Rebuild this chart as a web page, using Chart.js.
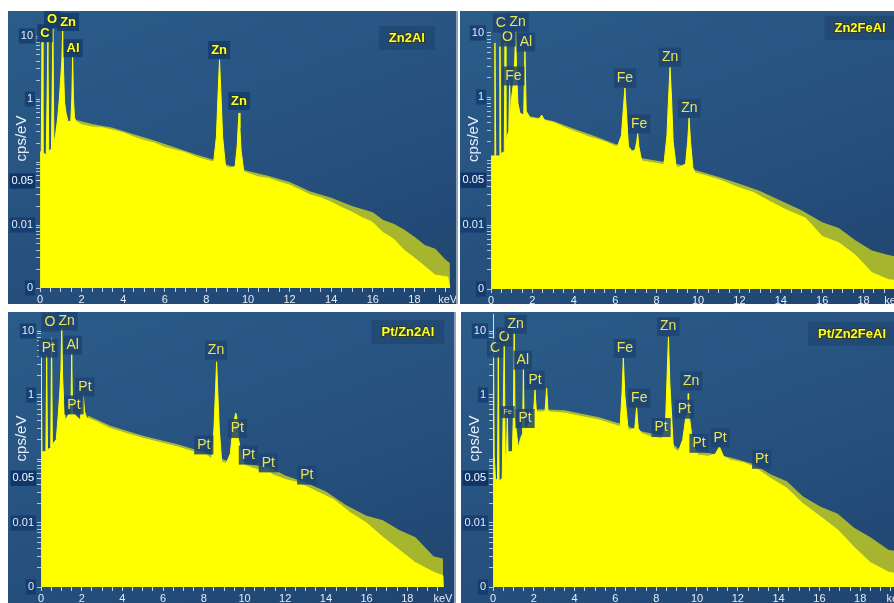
<!DOCTYPE html>
<html>
<head>
<meta charset="utf-8">
<script src="https://cdn.jsdelivr.net/npm/chart.js@4.4.1/dist/chart.umd.min.js"></script>
<style>
  body { margin: 0; background: #fff; width: 894px; height: 603px; position: relative; overflow: hidden; font-family: Arial, "Liberation Sans", sans-serif; }
  .panel { position: absolute; overflow: hidden; background: linear-gradient(160deg, #2b5c89 0%, #275280 50%, #20446f 100%); }
  .panel canvas { position: absolute; left: 0; top: 0; }
</style>
</head>
<body>
<div class="panel" id="p1" style="left:8px;top:11px;width:448px;height:293px;border-right:2px solid #8ea3b8;"></div>
<div class="panel" id="p2" style="left:460px;top:11px;width:434px;height:293px;"></div>
<div class="panel" id="p3" style="left:8px;top:312px;width:446px;height:291px;border-right:2px solid #8ea3b8;"></div>
<div class="panel" id="p4" style="left:461px;top:312px;width:433px;height:291px;"></div>
<script>
// Spektri: energija (keV) i intenzitet (cps/eV), procitano sa slike

// Zn2Al
const zn2alKeV = [0, 0.01, 0.06, 0.1, 0.14, 0.3, 0.38, 0.42, 0.55, 0.62, 0.67, 0.75, 0.85, 0.93, 0.98, 1.05, 1.09, 1.13, 1.18, 1.25, 1.36, 1.48, 1.53, 1.57, 1.61, 1.66, 1.76, 2, 2.5, 3, 3.5, 4, 4.5, 5, 5.5, 6, 6.5, 7, 7.5, 8, 8.35, 8.48, 8.56, 8.63, 8.7, 8.78, 8.92, 9.15, 9.38, 9.48, 9.53, 9.57, 9.61, 9.67, 9.8, 10, 10.5, 11, 11.5, 12, 12.5, 13, 13.5, 14, 14.5, 15, 15.5, 16, 16.5, 17, 17.5, 18, 18.5, 19, 19.6, 19.7];
const zn2alCps = [0.001, 0.14, 0.15, 8, 0.14, 0.13, 8, 0.15, 0.16, 13, 0.2, 0.27, 0.5, 1.0, 1.8, 4, 12.5, 3, 0.9, 0.6, 0.43, 0.45, 1.0, 4.6, 1.0, 0.5, 0.43, 0.39, 0.36, 0.35, 0.32, 0.29, 0.25, 0.22, 0.2, 0.17, 0.155, 0.14, 0.12, 0.107, 0.1, 0.25, 1.2, 4.2, 1.2, 0.25, 0.085, 0.08, 0.085, 0.18, 0.38, 0.6, 0.35, 0.15, 0.07, 0.066, 0.058, 0.055, 0.048, 0.043, 0.036, 0.03, 0.027, 0.023, 0.019, 0.016, 0.013, 0.011, 0.0075, 0.006, 0.004, 0.003, 0.0022, 0.0016, 0.0015, 0.001];
const zn2alNoiseKeV = [1.7, 2.5, 3.5, 4.5, 5.5, 6.5, 7.5, 8.3, 9.1, 9.9, 11, 12, 13, 14, 15, 16, 16.5, 17, 17.5, 18, 18.5, 19, 19.5, 19.7, 19.72];
const zn2alNoiseCps = [0.47, 0.4, 0.35, 0.275, 0.22, 0.17, 0.132, 0.11, 0.088, 0.073, 0.06, 0.048, 0.034, 0.027, 0.02, 0.016, 0.012, 0.0105, 0.0085, 0.0065, 0.0048, 0.0042, 0.0028, 0.0025, 0.001];

// Zn2FeAl
const zn2feKeV = [0, 0.01, 0.15, 0.19, 0.23, 0.39, 0.43, 0.47, 0.64, 0.68, 0.72, 0.86, 0.9, 0.94, 1.0, 1.08, 1.15, 1.19, 1.23, 1.3, 1.4, 1.58, 1.64, 1.7, 1.9, 2.3, 2.45, 2.6, 3.1, 3.5, 3.9, 4.3, 4.7, 5.1, 5.5, 6.1, 6.3, 6.4, 6.47, 6.54, 6.64, 6.8, 6.96, 7.04, 7.09, 7.14, 7.28, 7.9, 8.35, 8.5, 8.58, 8.65, 8.72, 8.8, 8.95, 9.1, 9.4, 9.5, 9.57, 9.64, 9.75, 9.85, 10.3, 11.1, 11.9, 12.7, 13.5, 14.3, 15.2, 16, 16.8, 17.6, 18.4, 19.2, 20];
const zn2feCps = [0.001, 0.12, 0.12, 7, 0.12, 0.12, 10, 0.13, 0.14, 7, 0.2, 0.3, 1.8, 0.5, 1.0, 1.6, 4, 11, 3, 0.8, 0.56, 0.52, 5.4, 0.6, 0.47, 0.45, 0.52, 0.43, 0.39, 0.34, 0.3, 0.27, 0.24, 0.22, 0.2, 0.165, 0.25, 0.7, 1.38, 0.6, 0.17, 0.14, 0.15, 0.2, 0.27, 0.17, 0.1, 0.093, 0.087, 0.25, 1.0, 2.9, 1.0, 0.2, 0.08, 0.08, 0.09, 0.2, 0.47, 0.2, 0.08, 0.065, 0.06, 0.05, 0.039, 0.032, 0.023, 0.017, 0.0128, 0.0066, 0.0053, 0.0034, 0.0018, 0.0014, 0.0013];
const zn2feNoiseKeV = [1.9, 3, 4, 5, 6, 6.6, 7.3, 8.3, 9.1, 9.9, 11, 12, 13, 14, 15, 16, 16.8, 17.6, 18.4, 19.2, 20];
const zn2feNoiseCps = [0.5, 0.42, 0.32, 0.245, 0.185, 0.17, 0.11, 0.097, 0.088, 0.072, 0.056, 0.044, 0.034, 0.024, 0.017, 0.011, 0.009, 0.0058, 0.004, 0.0034, 0.003];

// Pt/Zn2Al
const ptZn2alKeV = [0, 0.01, 0.05, 0.24, 0.28, 0.32, 0.48, 0.52, 0.56, 0.75, 0.85, 0.93, 0.98, 1.02, 1.06, 1.12, 1.2, 1.34, 1.47, 1.51, 1.55, 1.67, 1.92, 2.0, 2.08, 2.14, 2.25, 2.74, 3.39, 4.21, 5.03, 5.85, 6.67, 7.48, 8.14, 8.39, 8.5, 8.58, 8.63, 8.68, 8.76, 8.88, 9.1, 9.3, 9.45, 9.57, 9.62, 9.7, 9.86, 10, 10.4, 10.8, 11.07, 11.4, 12.1, 12.7, 13.55, 14.4, 15.2, 16, 16.8, 17.6, 18.4, 19.3, 19.75, 19.77];
const ptZn2alCps = [0.001, 4.2, 0.13, 0.13, 4.2, 0.14, 0.15, 7.8, 0.17, 0.2, 0.5, 1.2, 2.5, 11, 2.0, 0.7, 0.4, 0.49, 0.5, 4.5, 0.55, 0.49, 0.41, 0.6, 1.0, 0.55, 0.44, 0.38, 0.3, 0.25, 0.21, 0.18, 0.155, 0.13, 0.115, 0.1, 0.3, 1.3, 3.3, 1.3, 0.3, 0.09, 0.085, 0.12, 0.34, 0.52, 0.45, 0.21, 0.11, 0.08, 0.072, 0.066, 0.07, 0.056, 0.047, 0.042, 0.031, 0.023, 0.0145, 0.01, 0.006, 0.0038, 0.0024, 0.0017, 0.0015, 0.001];
const ptZn2alNoiseKeV = [2.3, 3.4, 5, 6.7, 8.1, 9.1, 10.2, 11.2, 12, 13, 14, 15, 16, 16.8, 17.6, 18.4, 19.3, 19.75, 19.77];
const ptZn2alNoiseCps = [0.48, 0.33, 0.23, 0.17, 0.125, 0.095, 0.082, 0.075, 0.055, 0.043, 0.031, 0.019, 0.013, 0.011, 0.0078, 0.006, 0.003, 0.0028, 0.001];

// Pt/Zn2FeAl
const ptZn2feKeV = [0, 0.01, 0.06, 0.12, 0.22, 0.26, 0.3, 0.45, 0.55, 0.6, 0.66, 0.7, 0.74, 0.95, 1.0, 1.04, 1.08, 1.24, 1.35, 1.45, 1.49, 1.53, 1.6, 1.65, 1.9, 2.0, 2.06, 2.12, 2.22, 2.55, 2.63, 2.7, 2.88, 3.53, 4.35, 5.16, 5.98, 6.23, 6.32, 6.39, 6.46, 6.63, 6.95, 7.04, 7.12, 7.29, 7.78, 8.27, 8.45, 8.53, 8.6, 8.67, 8.84, 9.08, 9.3, 9.45, 9.55, 9.57, 9.59, 9.65, 9.8, 10.05, 10.54, 10.9, 11.1, 11.3, 11.65, 12.3, 12.8, 13.6, 14.4, 15.2, 16.06, 16.9, 17.7, 18.5, 19.4, 20.3];
const ptZn2feCps = [0.001, 30, 0.11, 0.05, 0.045, 4.2, 0.045, 0.05, 6, 0.1, 0.13, 0.44, 0.13, 0.13, 0.5, 9.3, 0.4, 0.15, 0.21, 0.25, 2.6, 0.28, 0.32, 0.3, 0.44, 0.6, 1.2, 0.6, 0.54, 0.55, 1.28, 0.55, 0.54, 0.52, 0.46, 0.41, 0.34, 0.32, 1.0, 3.8, 1.0, 0.28, 0.3, 0.65, 0.3, 0.25, 0.22, 0.21, 0.3, 1.8, 8.1, 1.5, 0.15, 0.13, 0.2, 0.45, 0.5, 1.05, 0.5, 0.4, 0.17, 0.115, 0.11, 0.12, 0.155, 0.11, 0.096, 0.087, 0.075, 0.05, 0.035, 0.02, 0.0125, 0.0078, 0.0042, 0.0024, 0.0017, 0.0015];
const ptZn2feNoiseKeV = [2.2, 3.5, 5.2, 6.2, 7.3, 8.3, 9.1, 10.5, 11.7, 12.8, 13.6, 14.4, 15.2, 16.06, 16.9, 17.7, 18.5, 19.4, 20.3];
const ptZn2feNoiseCps = [0.6, 0.58, 0.45, 0.36, 0.27, 0.23, 0.145, 0.125, 0.105, 0.083, 0.058, 0.045, 0.026, 0.018, 0.014, 0.0084, 0.006, 0.0038, 0.0035];

// Oznake na y osi
const yTickValues = [10, 1, 0.05, 0.01, 0.001];
const yTickLabels = ['10', '1', '0.05', '0.01', '0'];

// Oznake pikova
const zn2alPeaks = [
  { text: 'C', kev: 0.24, cps: 11.1 }, { text: 'O', kev: 0.58, cps: 18.6 },
  { text: 'Zn', kev: 1.35, cps: 16.7 }, { text: 'Al', kev: 1.59, cps: 6.4 },
  { text: 'Zn', kev: 8.61, cps: 6.0 }, { text: 'Zn', kev: 9.57, cps: 0.93 }
];
const zn2fePeaks = [
  { text: 'C', kev: 0.47, cps: 14.3 }, { text: 'O', kev: 0.79, cps: 8.66 },
  { text: 'Zn', kev: 1.29, cps: 14.8 }, { text: 'Al', kev: 1.69, cps: 7.2 },
  { text: 'Fe', kev: 1.08, cps: 2.13 }, { text: 'Fe', kev: 6.47, cps: 1.98 },
  { text: 'Fe', kev: 7.16, cps: 0.38 }, { text: 'Zn', kev: 8.65, cps: 4.2 },
  { text: 'Zn', kev: 9.58, cps: 0.67 }
];
const ptZn2alPeaks = [
  { text: 'O', kev: 0.44, cps: 13.8 }, { text: 'Pt', kev: 0.36, cps: 5.4 },
  { text: 'Zn', kev: 1.26, cps: 14.3 }, { text: 'Al', kev: 1.56, cps: 6.0 },
  { text: 'Pt', kev: 2.16, cps: 1.33 }, { text: 'Pt', kev: 1.62, cps: 0.70 },
  { text: 'Zn', kev: 8.6, cps: 5.05 }, { text: 'Pt', kev: 9.65, cps: 0.3 },
  { text: 'Pt', kev: 8.0, cps: 0.166 }, { text: 'Pt', kev: 10.19, cps: 0.115 },
  { text: 'Pt', kev: 11.17, cps: 0.087 }, { text: 'Pt', kev: 13.06, cps: 0.056 }
];
const ptZn2fePeaks = [
  { text: 'C', kev: 0.1, cps: 5.4 }, { text: 'O', kev: 0.55, cps: 8.1 },
  { text: 'Zn', kev: 1.11, cps: 12.7 }, { text: 'Al', kev: 1.46, cps: 3.5 },
  { text: 'Fe', kev: 0.72, cps: 0.54, size: 7 }, { text: 'Pt', kev: 2.06, cps: 1.71 },
  { text: 'Pt', kev: 1.57, cps: 0.43 }, { text: 'Fe', kev: 6.47, cps: 5.35 },
  { text: 'Fe', kev: 7.17, cps: 0.89 }, { text: 'Pt', kev: 8.24, cps: 0.31 },
  { text: 'Zn', kev: 8.59, cps: 11.7 }, { text: 'Zn', kev: 9.71, cps: 1.65 },
  { text: 'Pt', kev: 9.38, cps: 0.6 }, { text: 'Pt', kev: 10.1, cps: 0.176 },
  { text: 'Pt', kev: 11.13, cps: 0.215 }, { text: 'Pt', kev: 13.17, cps: 0.099 }
];

function toPoints(xs, ys) {
  return xs.map((x, i) => ({ x: x, y: ys[i] }));
}

// Crtanje oznaka, naslova i "keV"
const labelPlugin = {
  id: 'peakLabels',
  afterDatasetsDraw(chart) {
    const o = chart.config.options.peakCfg;
    const ctx = chart.ctx;
    const x = chart.scales.x, y = chart.scales.y;
    ctx.save();
    ctx.textAlign = 'center';
    ctx.textBaseline = 'middle';
    o.peaks.forEach(p => {
      const size = p.size || o.size;
      const px = x.getPixelForValue(p.kev), py = y.getPixelForValue(p.cps);
      ctx.font = (o.bold ? 'bold ' : '') + size + 'px Arial';
      const w = ctx.measureText(p.text).width + 6, h = size + 5;
      ctx.fillStyle = o.box;
      ctx.fillRect(px - w / 2, py - h / 2, w, h);
      if (o.bold) {
        ctx.lineWidth = 2;
        ctx.strokeStyle = 'rgba(40,50,30,0.7)';
        ctx.strokeText(p.text, px, py);
      }
      ctx.fillStyle = o.color;
      ctx.fillText(p.text, px, py);
    });
    // naslov uzorka
    ctx.font = 'bold 13px Arial';
    const tx = x.getPixelForValue(o.title.kev), ty = y.getPixelForValue(o.title.cps);
    const tw = ctx.measureText(o.title.text).width;
    ctx.fillStyle = 'rgba(20,50,90,0.3)';
    ctx.fillRect(tx - tw / 2 - 10, ty - 12, tw + 20, 24);
    ctx.lineWidth = 2;
    ctx.strokeStyle = 'rgba(50,55,20,0.8)';
    ctx.strokeText(o.title.text, tx, ty);
    ctx.fillStyle = '#ffff2a';
    ctx.fillText(o.title.text, tx, ty);
    ctx.restore();
  },
  afterDraw(chart) {
    const ctx = chart.ctx;
    const area = chart.chartArea;
    const o = chart.config.options.peakCfg;
    ctx.save();
    ctx.fillStyle = '#e6edf5';
    ctx.font = '11px Arial';
    ctx.textAlign = 'center';
    ctx.textBaseline = 'middle';
    ctx.fillText('keV', chart.scales.x.getPixelForValue(o.kevAt), area.bottom + 12);
    ctx.translate(14, (area.top + area.bottom) / 2 - 12);
    ctx.rotate(-Math.PI / 2);
    ctx.font = '15px Arial';
    ctx.fillText('cps/eV', 0, 0);
    ctx.restore();
  }
};

function makePanel(id, cfg) {
  const panel = document.getElementById(id);
  const canvas = document.createElement('canvas');
  const top = 2;
  const bottom = cfg.y1 + 3 * cfg.ppd;
  const h = bottom + 26;
  canvas.width = cfg.w;
  canvas.height = h;
  canvas.style.width = cfg.w + 'px';
  canvas.style.height = h + 'px';
  panel.appendChild(canvas);

  const xMax = (cfg.w - cfg.x0 - 4) / cfg.ppk;
  const yMax = Math.pow(10, (cfg.y1 - top) / cfg.ppd);

  const yTicks = [];
  for (let e = -3; e <= 0; e++) {
    for (let m = 1; m <= 9; m++) yTicks.push(m * Math.pow(10, e));
  }
  yTicks.push(0.05, 10);

  const yLabel = v => {
    const i = yTickValues.findIndex(t => Math.abs(v / t - 1) < 1e-6);
    return i >= 0 ? yTickLabels[i] : '';
  };

  return new Chart(canvas, {
    type: 'line',
    data: {
      datasets: [{
        data: toPoints(cfg.noiseKeV, cfg.noiseCps),
        backgroundColor: 'rgba(255,255,0,0.6)',
        borderWidth: 0,
        fill: 'start',
        pointRadius: 0,
        tension: 0
      }, {
        data: toPoints(cfg.keV, cfg.cps),
        backgroundColor: '#ffff00',
        borderColor: '#ffff00',
        borderWidth: 1,
        fill: 'start',
        pointRadius: 0,
        tension: 0
      }]
    },
    options: {
      responsive: false,
      animation: false,
      devicePixelRatio: 1,
      layout: { padding: { left: 0, top: top, right: 4, bottom: 0 } },
      plugins: { legend: { display: false }, tooltip: { enabled: false } },
      peakCfg: cfg.labels,
      scales: {
        x: {
          type: 'linear',
          min: 0,
          max: xMax,
          border: { display: false },
          grid: { drawOnChartArea: false, drawTicks: true, tickLength: 4, tickColor: 'rgba(225,232,240,0.85)' },
          afterBuildTicks: s => {
            const t = [];
            for (let v = 0; v <= 19.5; v += 0.5) t.push({ value: v });
            s.ticks = t;
          },
          afterFit: s => { s.height = 26; s.paddingLeft = 0; s.paddingRight = 0; },
          ticks: {
            autoSkip: false,
            maxRotation: 0,
            padding: 1,
            color: '#e6edf5',
            font: { size: 11, family: 'Arial' },
            callback: v => (v % 2 === 0 ? String(v) : '')
          }
        },
        y: {
          type: 'logarithmic',
          min: 0.001,
          max: yMax,
          border: { display: false },
          grid: { drawOnChartArea: false, drawTicks: true, tickLength: 4, tickColor: 'rgba(225,232,240,0.75)' },
          afterBuildTicks: s => { s.ticks = yTicks.map(v => ({ value: v })); },
          afterFit: s => { s.width = cfg.x0; s.paddingTop = 0; s.paddingBottom = 0; },
          ticks: {
            autoSkip: false,
            padding: 3,
            color: '#e6edf5',
            font: { size: 11, family: 'Arial' },
            callback: yLabel,
            showLabelBackdrop: c => !!(c.tick && yLabel(c.tick.value) !== ''),
            backdropColor: 'rgba(10,45,100,0.55)',
            backdropPadding: { x: 2, y: 1 }
          }
        }
      }
    },
    plugins: [labelPlugin]
  });
}

makePanel('p1', {
  w: 448, x0: 32, ppk: 20.8, y1: 88, ppd: 63,
  keV: zn2alKeV, cps: zn2alCps, noiseKeV: zn2alNoiseKeV, noiseCps: zn2alNoiseCps,
  labels: { peaks: zn2alPeaks, bold: true, size: 13, color: '#ffff30', box: 'rgba(20,60,110,0.85)',
    title: { text: 'Zn2Al', kev: 17.64, cps: 9.3 }, kevAt: 19.6 }
});
makePanel('p2', {
  w: 450, x0: 31, ppk: 20.7, y1: 86, ppd: 64,
  keV: zn2feKeV, cps: zn2feCps, noiseKeV: zn2feNoiseKeV, noiseCps: zn2feNoiseCps,
  labels: { peaks: zn2fePeaks, bold: false, size: 14, color: '#e8e45a', box: 'rgba(30,68,112,0.85)',
    title: { text: 'Zn2FeAl', kev: 17.83, cps: 12 }, kevAt: 19.45 }
});
makePanel('p3', {
  w: 446, x0: 33, ppk: 20.35, y1: 83, ppd: 64,
  keV: ptZn2alKeV, cps: ptZn2alCps, noiseKeV: ptZn2alNoiseKeV, noiseCps: ptZn2alNoiseCps,
  labels: { peaks: ptZn2alPeaks, bold: false, size: 14, color: '#e8e45a', box: 'rgba(30,68,112,0.85)',
    title: { text: 'Pt/Zn2Al', kev: 18.03, cps: 9.6 }, kevAt: 19.75 }
});
makePanel('p4', {
  w: 450, x0: 32, ppk: 20.4, y1: 83, ppd: 64,
  keV: ptZn2feKeV, cps: ptZn2feCps, noiseKeV: ptZn2feNoiseKeV, noiseCps: ptZn2feNoiseCps,
  labels: { peaks: ptZn2fePeaks, bold: false, size: 14, color: '#e8e45a', box: 'rgba(30,68,112,0.85)',
    title: { text: 'Pt/Zn2FeAl', kev: 17.6, cps: 9 }, kevAt: 19.75 }
});
</script>
</body>
</html>
